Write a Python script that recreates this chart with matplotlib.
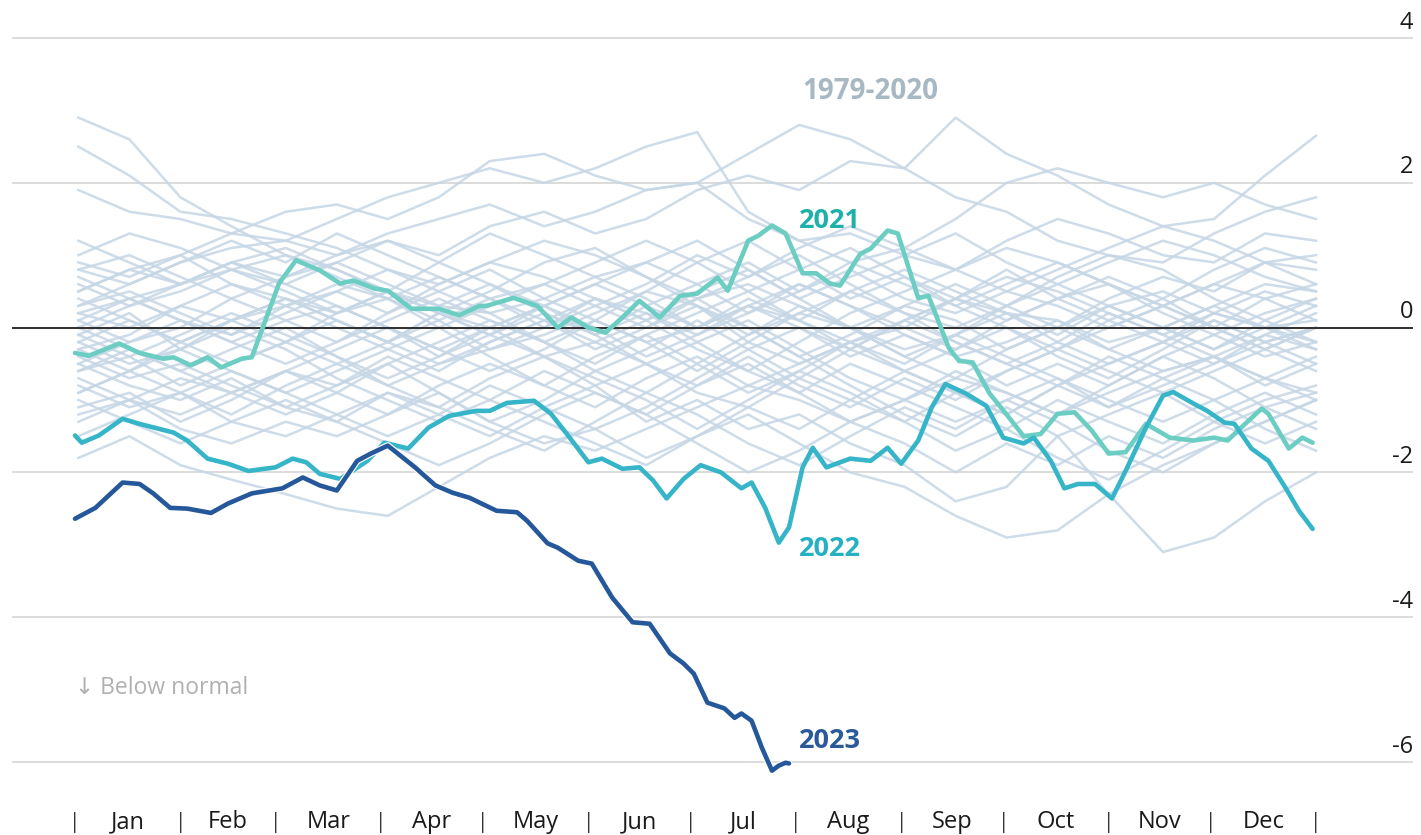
import matplotlib
matplotlib.use("Agg")
import matplotlib.pyplot as plt
import matplotlib.patheffects as pe
import numpy as np

plt.rcParams['font.family'] = ['Open Sans', 'DejaVu Sans']

# ---------------- data ----------------
month_labels = ["Jan", "Feb", "Mar", "Apr", "May", "Jun", "Jul", "Aug", "Sep", "Oct", "Nov", "Dec"]
month_starts = [0, 31, 59, 90, 120, 151, 181, 212, 243, 273, 304, 334, 365]
y_ticks = [4, 2, 0, -2, -4, -6]

bg_days = [1, 16, 31, 46, 62, 77, 92, 107, 122, 138, 153, 168, 183, 198, 213, 228, 244, 259, 274, 289, 304, 320, 335, 350, 365]

bg_years = [
    [2.9, 2.6, 1.8, 1.4, 1.0, 0.8, 0.5, 0.3, 0.2, 0.4, 0.1, -0.2, 0.0, 0.3, 0.1, -0.2, 0.0, 0.4, 0.2, -0.1, 0.3, 0.5, 0.2, 0.0, 0.1],
    [2.5, 2.1, 1.6, 1.5, 1.3, 1.1, 0.8, 0.6, 0.9, 1.2, 1.0, 0.7, 0.4, 0.6, 0.3, 0.0, -0.3, -0.1, 0.2, 0.1, -0.2, 0.0, 0.3, 0.6, 0.5],
    [1.9, 1.6, 1.5, 1.3, 1.6, 1.7, 1.5, 1.8, 2.3, 2.4, 2.1, 1.9, 2.0, 1.5, 1.2, 0.9, 1.1, 1.5, 2.0, 2.2, 2.0, 1.8, 2.0, 1.7, 1.5],
    [0.5, 0.8, 1.0, 1.3, 1.2, 1.5, 1.8, 2.0, 2.2, 2.0, 2.2, 2.5, 2.7, 1.6, 1.2, 1.3, 1.0, 0.8, 1.2, 1.5, 1.3, 1.0, 0.9, 1.3, 1.2],
    [0.8, 0.6, 0.9, 1.1, 1.2, 1.0, 1.3, 1.5, 1.7, 1.4, 1.6, 1.9, 2.0, 2.4, 2.8, 2.6, 2.2, 1.8, 1.6, 1.2, 1.0, 0.9, 1.3, 1.6, 1.8],
    [0.2, 0.4, 0.6, 0.9, 0.7, 1.0, 1.2, 1.0, 1.4, 1.6, 1.3, 1.5, 1.9, 2.1, 1.9, 2.3, 2.2, 2.9, 2.4, 2.1, 1.7, 1.4, 1.5, 2.1, 2.65],
    [-0.5, -0.8, -1.0, -0.7, -1.1, -1.3, -0.9, -1.2, -1.5, -1.1, -0.8, -1.3, -1.0, -1.4, -1.2, -1.6, -1.9, -2.4, -2.2, -1.5, -2.3, -3.1, -2.9, -2.4, -2.0],
    [-1.2, -1.0, -1.4, -1.6, -1.3, -1.5, -1.2, -0.9, -1.3, -1.6, -1.4, -1.8, -1.5, -1.2, -1.6, -2.0, -2.2, -2.6, -2.9, -2.8, -2.3, -1.9, -1.6, -1.3, -1.0],
    [-1.8, -1.5, -1.9, -2.1, -2.3, -2.5, -2.6, -2.2, -1.8, -1.5, -1.7, -1.4, -1.1, -0.8, -1.0, -1.3, -1.0, -0.7, -0.9, -1.2, -0.9, -0.6, -0.4, -0.7, -0.9],
    [0.3, 0.5, 0.2, -0.1, 0.3, 0.6, 0.4, 0.1, -0.3, -0.1, 0.2, 0.5, 0.3, -0.2, -0.5, -0.2, 0.1, 0.4, 0.7, 0.5, 0.2, -0.1, 0.2, 0.5, 0.3],
    [-0.6, -0.4, -0.8, -0.5, -0.2, 0.1, -0.2, -0.5, -0.3, 0.0, 0.4, 0.2, -0.1, 0.3, 0.6, 0.3, -0.1, -0.4, -0.2, 0.1, -0.3, -0.6, -0.4, -0.1, -0.3],
    [0.9, 0.7, 1.0, 0.6, 0.3, 0.5, 0.2, 0.6, 0.9, 0.7, 0.4, 0.1, 0.5, 0.8, 0.4, 0.0, 0.3, 0.1, -0.3, 0.0, 0.4, 0.7, 0.5, 0.9, 0.8],
    [-1.1, -0.9, -1.3, -1.0, -0.6, -0.8, -0.4, -0.7, -1.0, -0.6, -0.9, -1.2, -0.8, -0.5, -0.9, -1.3, -1.0, -0.6, -0.9, -1.2, -0.8, -0.4, -0.7, -1.1, -0.9],
    [0.1, -0.2, 0.0, 0.4, 0.7, 0.9, 1.2, 0.9, 0.6, 0.2, -0.1, 0.3, 0.6, 0.9, 0.5, 0.8, 0.4, 0.2, 0.5, 0.3, 0.0, 0.3, 0.6, 0.4, 0.1],
    [-0.3, -0.1, 0.3, 0.6, 0.4, 0.1, -0.2, 0.2, 0.5, 0.9, 1.1, 0.7, 0.3, 0.0, -0.4, -0.1, 0.3, 0.6, 0.3, 0.7, 1.0, 0.8, 0.4, 0.1, -0.2],
    [-0.8, -1.1, -0.9, -1.3, -1.5, -1.2, -0.9, -1.1, -0.7, -0.4, -0.8, -0.5, -0.2, -0.6, -0.9, -0.5, -0.8, -1.1, -1.4, -1.0, -1.3, -1.6, -1.2, -0.9, -1.2],
    [0.5, 0.8, 0.6, 0.9, 1.1, 0.8, 0.5, 0.2, 0.0, -0.4, -0.2, 0.1, -0.3, -0.6, -0.2, 0.2, 0.5, 0.8, 1.1, 0.9, 0.6, 0.3, 0.0, 0.4, 0.6],
    [-0.1, 0.2, -0.3, -0.6, -0.9, -0.6, -0.3, -0.6, -0.2, 0.1, -0.2, -0.5, -0.9, -1.1, -0.7, -0.3, 0.1, -0.2, -0.5, -0.8, -0.5, -0.2, 0.2, 0.0, -0.3],
    [1.2, 0.9, 0.6, 0.8, 0.5, 0.2, 0.4, 0.7, 0.4, 0.6, 0.9, 1.2, 0.9, 0.5, 0.8, 1.1, 0.7, 0.4, 0.1, 0.4, 0.6, 0.2, -0.1, 0.2, 0.4],
    [-1.5, -1.2, -0.9, -1.2, -0.8, -0.5, -0.8, -1.1, -1.4, -1.7, -1.3, -0.9, -1.2, -1.6, -1.9, -1.5, -1.1, -1.4, -1.0, -0.7, -1.0, -1.3, -1.0, -1.4, -1.7],
    [0.0, -0.3, -0.6, -0.3, 0.0, -0.4, -0.7, -0.4, 0.0, 0.3, 0.0, -0.4, -0.1, 0.2, 0.5, 0.9, 0.6, 0.3, 0.0, -0.3, 0.1, 0.4, 0.8, 1.1, 0.9],
    [-0.5, -0.2, 0.1, -0.2, -0.5, -0.2, 0.2, 0.5, 0.2, -0.2, -0.6, -0.3, 0.1, -0.3, -0.7, -1.0, -0.6, -0.9, -1.2, -0.8, -0.4, -0.7, -1.0, -0.7, -0.4],
    [0.6, 0.3, 0.5, 0.8, 0.6, 0.3, 0.0, -0.3, -0.6, -0.3, 0.1, -0.2, -0.6, -0.2, 0.2, 0.0, -0.4, -0.7, -0.3, 0.0, 0.3, 0.0, 0.3, 0.0, -0.2],
    [-0.9, -0.6, -0.3, 0.0, -0.3, -0.7, -1.0, -1.3, -1.0, -1.3, -1.6, -1.9, -1.5, -1.1, -1.4, -1.0, -1.3, -1.7, -1.4, -1.8, -2.1, -1.7, -1.3, -1.0, -0.8],
    [0.4, 0.1, -0.2, 0.1, 0.4, 0.2, 0.5, 0.9, 1.3, 1.0, 0.7, 0.9, 1.2, 0.8, 0.4, 0.7, 1.0, 1.3, 0.9, 0.6, 0.9, 1.2, 1.0, 0.7, 0.5],
    [-0.2, -0.5, -0.3, 0.1, 0.3, 0.0, -0.3, 0.0, -0.4, -0.8, -1.1, -0.7, -0.4, -0.8, -0.5, -0.2, -0.6, -0.3, 0.1, 0.4, 0.1, -0.2, -0.5, -0.2, 0.0],
    [-1.3, -1.0, -0.7, -0.9, -1.2, -0.9, -0.5, -0.2, 0.1, -0.2, -0.5, -0.1, 0.2, 0.5, 0.1, -0.3, -0.6, -0.9, -0.6, -0.3, -0.6, -0.9, -1.3, -1.6, -1.3],
    [0.2, 0.0, 0.3, 0.1, -0.2, -0.5, -0.2, 0.2, -0.1, 0.3, 0.6, 0.3, 0.0, 0.4, 0.1, 0.5, 0.8, 0.5, 0.2, -0.2, -0.5, -0.2, 0.1, -0.2, 0.0],
    [-0.7, -1.0, -1.2, -0.9, -0.6, -0.9, -1.2, -0.8, -0.5, -0.8, -0.4, -0.1, -0.5, -0.9, -0.6, -0.2, -0.5, -0.1, -0.4, -0.7, -1.1, -0.8, -0.5, -0.1, 0.2],
    [0.8, 1.0, 0.7, 0.4, 0.1, 0.3, 0.0, -0.3, 0.0, 0.3, 0.6, 0.9, 0.6, 0.2, 0.6, 0.3, 0.0, -0.3, 0.0, -0.4, -0.7, -0.3, 0.1, -0.2, -0.5],
    [-0.4, -0.7, -0.5, -0.8, -1.1, -0.8, -0.5, -0.9, -1.3, -1.0, -0.6, -0.9, -0.5, -0.1, 0.3, 0.0, -0.4, -0.1, 0.3, 0.6, 0.3, 0.0, -0.3, 0.0, 0.3],
    [0.0, 0.3, 0.6, 0.9, 0.6, 0.9, 0.6, 0.3, 0.6, 0.3, -0.1, -0.5, -0.8, -0.4, -0.8, -1.1, -0.7, -1.0, -0.6, -0.3, 0.0, 0.3, 0.0, -0.3, -0.6],
    [-1.0, -1.3, -1.6, -1.3, -1.0, -1.3, -1.6, -1.9, -1.6, -1.2, -0.9, -1.2, -1.6, -2.0, -1.7, -1.3, -1.6, -2.0, -1.6, -1.9, -1.5, -1.8, -1.4, -1.1, -1.4],
    [0.3, 0.6, 0.9, 1.2, 0.9, 1.3, 1.0, 0.7, 0.4, 0.0, 0.3, 0.0, 0.4, 0.7, 1.0, 0.6, 0.2, 0.0, 0.3, 0.0, -0.3, 0.0, -0.3, 0.1, 0.4],
    [-0.2, 0.1, -0.2, -0.5, -0.2, 0.2, 0.5, 0.2, -0.1, -0.4, -0.7, -1.0, -1.4, -1.0, -0.6, -0.9, -1.3, -0.9, -1.2, -0.8, -1.1, -0.7, -0.4, -0.7, -1.0],
    [0.7, 0.4, 0.1, -0.2, 0.1, -0.2, 0.1, 0.4, 0.1, -0.2, 0.1, 0.5, 0.9, 1.2, 0.8, 0.4, 0.7, 0.3, 0.6, 0.9, 0.6, 0.3, 0.6, 0.9, 1.0],
    [-0.6, -0.3, -0.6, -0.9, -0.6, -0.3, 0.0, -0.4, -0.1, 0.2, -0.1, 0.2, -0.2, 0.1, -0.3, -0.7, -1.0, -1.3, -1.0, -1.3, -1.7, -2.0, -1.6, -1.3, -1.0],
    [0.1, 0.4, 0.1, -0.1, 0.2, 0.5, 0.8, 0.5, 0.8, 0.4, 0.7, 0.4, 0.0, 0.3, 0.0, -0.3, 0.1, 0.4, 0.8, 0.4, 0.7, 0.4, 0.0, -0.3, 0.0],
    [-0.3, -0.6, -0.9, -0.6, -0.9, -1.2, -1.5, -1.2, -0.8, -1.1, -1.4, -1.1, -0.7, -0.3, 0.0, -0.4, -0.1, -0.4, -0.8, -0.5, -0.8, -0.4, -0.1, -0.4, -0.2],
    [1.0, 1.3, 1.1, 0.8, 1.0, 0.7, 0.4, 0.0, 0.3, 0.6, 0.3, 0.6, 1.0, 0.7, 1.1, 1.4, 1.1, 0.8, 0.5, 0.8, 1.1, 1.4, 1.2, 0.9, 0.6],
    [-0.9, -0.6, -0.2, 0.1, 0.4, 0.1, -0.2, 0.1, 0.4, 0.1, -0.3, 0.0, 0.3, -0.1, 0.2, 0.5, 0.2, -0.2, -0.5, -0.2, 0.2, -0.1, -0.4, -0.8, -0.5],
    [-0.1, -0.4, -0.1, 0.2, -0.1, -0.4, -0.8, -0.5, -0.2, 0.1, 0.4, 0.1, 0.4, 0.0, -0.4, -0.8, -1.2, -1.5, -1.1, -1.5, -1.2, -0.9, -0.6, -0.3, 0.0],
]

days_2021 = [0, 4, 13, 19, 26, 29, 34, 39, 43, 49, 52, 56, 60, 65, 72, 78, 82, 88, 92, 99, 107, 113, 119, 121, 129,
             136, 142, 146, 151, 156, 161, 166, 172, 178, 183, 189, 192, 198, 201, 205, 209, 214, 218, 222, 225,
             231, 234, 239, 242, 248, 251, 253, 257, 260, 264, 269, 274, 279, 284, 289, 294, 299, 304, 309, 315,
             322, 329, 335, 339, 343, 349, 351, 357, 361, 364]
vals_2021 = [-0.35, -0.39, -0.22, -0.35, -0.43, -0.41, -0.52, -0.41, -0.55, -0.43, -0.41, 0.1, 0.61, 0.93, 0.79,
             0.61, 0.65, 0.54, 0.51, 0.26, 0.26, 0.17, 0.3, 0.3, 0.41, 0.3, 0.0, 0.14, 0.0, -0.07, 0.14, 0.37, 0.14,
             0.44, 0.47, 0.69, 0.51, 1.2, 1.27, 1.41, 1.3, 0.75, 0.75, 0.61, 0.58, 1.02, 1.09, 1.34, 1.3, 0.41, 0.44,
             0.2, -0.28, -0.46, -0.48, -0.91, -1.2, -1.5, -1.47, -1.19, -1.17, -1.42, -1.74, -1.72, -1.33, -1.52,
             -1.56, -1.52, -1.56, -1.38, -1.12, -1.19, -1.67, -1.52, -1.59]

days_2022 = [0, 2, 7, 14, 19, 29, 33, 39, 45, 51, 59, 64, 68, 72, 78, 86, 91, 98, 104, 110, 118, 122, 127, 135, 140,
             145, 151, 155, 161, 166, 170, 174, 179, 184, 190, 196, 199, 203, 207, 210, 214, 217, 221, 228, 234,
             239, 243, 248, 252, 256, 262, 268, 273, 279, 282, 287, 291, 295, 300, 305, 309, 315, 320, 323, 329,
             333, 338, 341, 346, 351, 356, 360, 364]
vals_2022 = [-1.49, -1.59, -1.49, -1.26, -1.33, -1.45, -1.56, -1.81, -1.88, -1.98, -1.93, -1.81, -1.86, -2.02, -2.09,
             -1.84, -1.59, -1.67, -1.38, -1.22, -1.15, -1.15, -1.04, -1.01, -1.19, -1.49, -1.86, -1.81, -1.95, -1.93,
             -2.11, -2.36, -2.09, -1.9, -2.0, -2.22, -2.14, -2.49, -2.97, -2.76, -1.93, -1.66, -1.93, -1.81, -1.84,
             -1.66, -1.88, -1.56, -1.1, -0.78, -0.91, -1.08, -1.52, -1.6, -1.52, -1.84, -2.22, -2.16, -2.16, -2.36,
             -1.98, -1.38, -0.94, -0.89, -1.05, -1.15, -1.31, -1.33, -1.67, -1.84, -2.21, -2.53, -2.78]

days_2023 = [0, 6, 14, 19, 23, 28, 33, 40, 45, 52, 61, 67, 72, 77, 83, 87, 92, 100, 106, 111, 116, 124, 130, 133,
             139, 142, 148, 152, 158, 164, 169, 175, 179, 182, 186, 191, 194, 196, 199, 202, 205, 207, 209, 210]
vals_2023 = [-2.64, -2.49, -2.14, -2.16, -2.29, -2.49, -2.5, -2.56, -2.43, -2.29, -2.22, -2.07, -2.18, -2.25, -1.84,
             -1.74, -1.63, -1.93, -2.18, -2.28, -2.35, -2.53, -2.55, -2.67, -2.98, -3.04, -3.22, -3.26, -3.73, -4.07,
             -4.09, -4.5, -4.64, -4.78, -5.18, -5.26, -5.39, -5.33, -5.43, -5.8, -6.12, -6.05, -6.01, -6.02]

# ---------------- figure ----------------
W, H = 1421, 835
fig = plt.figure(figsize=(W / 100, H / 100), dpi=100)
fig.patch.set_facecolor("white")

px_per_unit = 72.4
y_top_px = 38 - 0.3 * px_per_unit
y_bot_px = 762 + 0.3 * px_per_unit
ax = fig.add_axes([12 / W, 1 - y_bot_px / H, (1413 - 12) / W, (y_bot_px - y_top_px) / H])
ax.set_xlim((12 - 75) / 3.4, (1413 - 75) / 3.4)
ax.set_ylim(-6.3, 4.3)
ax.axis("off")

for t in y_ticks:
    if t == 0:
        ax.axhline(0, color="#2e2e2e", lw=1.4, zorder=3)
    else:
        ax.axhline(t, color="#d9d9d9", lw=1.3, zorder=0)
    ax.text(1.0, t + 0.13, str(t), transform=ax.get_yaxis_transform(), ha="right", va="baseline",
            fontsize=17, color="#1a1a1a")

for vals in bg_years:
    ax.plot(bg_days, vals, color="#c5d6e5", lw=1.8, alpha=0.85, zorder=1, solid_joinstyle="round")

ax.plot(days_2021, vals_2021, color="#6ccdc2", lw=3.3, zorder=4, solid_capstyle="round", solid_joinstyle="round")
ax.plot(days_2022, vals_2022, color="#36b5c8", lw=3.3, zorder=5, solid_capstyle="round", solid_joinstyle="round")
ax.plot(days_2023, vals_2023, color="#25589a", lw=3.3, zorder=6, solid_capstyle="round", solid_joinstyle="round",
        path_effects=[pe.Stroke(linewidth=5.0, foreground="white"), pe.Normal()], clip_on=False)

# series labels
ax.text(234, 3.16, "1979-2020", ha="center", va="baseline", fontsize=20, fontweight="bold", color="#a7b8c3")
ax.text(213, 1.37, "2021", ha="left", va="baseline", fontsize=19.5, fontweight="bold", color="#1fb1a9")
ax.text(213, -3.15, "2022", ha="left", va="baseline", fontsize=19.5, fontweight="bold", color="#26b1c3")
ax.text(213, -5.8, "2023", ha="left", va="baseline", fontsize=19.5, fontweight="bold", color="#2a5a99")

ax.text(0, -5.06, "\u2193 Below normal", ha="left", va="baseline", fontsize=16.5, color="#b0b0b0",
        family=["Open Sans", "DejaVu Sans"])

# month axis
xa = ax.get_xaxis_transform()
y_lab = -(828 - y_bot_px) / (y_bot_px - y_top_px)
for d in month_starts:
    ax.text(d, y_lab, "|", transform=xa, ha="center", va="baseline", fontsize=15, color="#333333", clip_on=False)
for i, m in enumerate(month_labels):
    mid = (month_starts[i] + month_starts[i + 1]) / 2
    ax.text(mid, y_lab, m, transform=xa, ha="center", va="baseline", fontsize=17, color="#1a1a1a", clip_on=False)

fig.savefig("out.png", dpi=100, facecolor="white")
